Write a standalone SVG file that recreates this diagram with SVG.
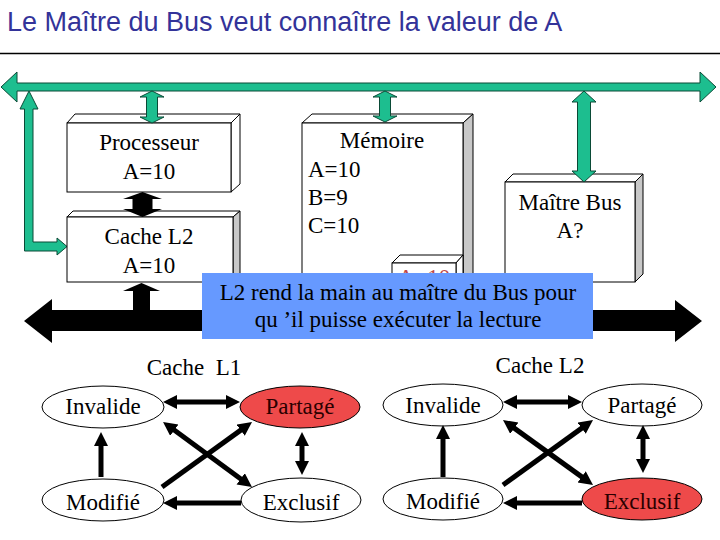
<svg xmlns="http://www.w3.org/2000/svg" width="720" height="540" viewBox="0 0 720 540">
<style>
.t{font-family:"Liberation Serif","Tinos","Times New Roman","DejaVu Serif",serif;font-size:23px;fill:#000}
.c{text-anchor:middle}
.face{fill:#fff;stroke:#000;stroke-width:1}
.side{fill:#c8c8c8;stroke:#000;stroke-width:1}
.green{fill:#1dbe8f;stroke:#0a4a36;stroke-width:1}
.blk{fill:#000}
.st{fill:#fff;stroke:#000;stroke-width:1}
.stred{fill:#ee4a4a;stroke:#000;stroke-width:1}
.ln{stroke:#000;stroke-width:5;fill:none}
</style>
<defs>
<marker id="ah" markerUnits="userSpaceOnUse" markerWidth="16" markerHeight="16" refX="4" refY="7" orient="auto-start-reverse" viewBox="0 0 16 16">
<path d="M0,0 L14,7 L0,14 Z" fill="#000"/>
</marker>
<clipPath id="clipA"><rect x="392" y="255" width="72" height="18"/></clipPath>
</defs>
<rect width="720" height="540" fill="#fff"/>
<g id="title">
<text x="7" y="31" font-family="Liberation Sans, Arial, sans-serif" font-size="27" fill="#333399">Le Maître du Bus veut connaître la valeur de A</text>
<line x1="0" y1="53.5" x2="720" y2="53.5" stroke="#000" stroke-width="1.5"/>
</g>
<g id="buses">
<path class="blk" d="M24,321 L52,299 L52,310 L675,310 L675,300 L702,321 L675,342 L675,331 L52,331 L52,343 Z"/>
<path class="green" d="M1,87 L17,72 L17,83 L700,83 L700,72 L716,87 L700,102 L700,91 L17,91 L17,102 Z"/>
<path class="green" d="M29,91 L38,109 L33,109 L33,242 L57,242 L57,238 L67,246.5 L57,255 L57,251 L24.5,251 L24.5,109 L20,109 Z"/>
</g>
<g id="processeur">
<polygon class="face" points="67,123 75,114 240,114 231,123"/>
<polygon class="face" points="231,123 240,114 240,184 231,192"/>
<rect class="face" x="67" y="123" width="164" height="69"/>
<text class="t c" x="149" y="150">Processeur</text>
<text class="t c" x="149" y="179">A=10</text>
</g>
<g id="cacheL2">
<polygon class="face" points="67,217 73,211 240,211 233,217"/>
<polygon class="side" points="233,217 240,211 240,276 233,282"/>
<rect class="face" x="67" y="217" width="166" height="65"/>
<text class="t c" x="149" y="244">Cache L2</text>
<text class="t c" x="149" y="273">A=10</text>
</g>
<g id="memoire">
<polygon class="face" points="302,123 312,114 473,114 463,123"/>
<polygon class="side" points="463,123 473,114 473,291 463,300"/>
<rect class="face" x="302" y="123" width="161" height="177"/>
<text class="t c" x="382" y="148">Mémoire</text>
<text class="t" x="308" y="177">A=10</text>
<text class="t" x="308" y="205">B=9</text>
<text class="t" x="308" y="233">C=10</text>
</g>
<g id="petitA">
<polygon class="face" points="392,263 400,255 463,255 456,263"/>
<polygon class="face" points="456,263 463,255 463,292 456,300"/>
<rect class="face" x="392" y="263" width="64" height="37"/>
<text class="t c" x="424" y="285" style="fill:#c04848" clip-path="url(#clipA)">A=10</text>
</g>
<g id="maitreBus">
<polygon class="face" points="505,182 513,174 643,174 635,182"/>
<polygon class="side" points="635,182 643,174 643,274 635,282"/>
<rect class="face" x="505" y="182" width="130" height="100"/>
<text class="t c" x="570" y="210">Maître Bus</text>
<text class="t c" x="570" y="238">A?</text>
</g>
<g id="links">
<path class="green" d="M152,91 L164,97 L157.5,97 L157.5,117 L164,117 L152,123 L140,117 L146.5,117 L146.5,97 L140,97 Z"/>
<path class="green" d="M385,91 L397,97 L390.5,97 L390.5,116 L397,116 L385,122 L373,116 L379.5,116 L379.5,97 L373,97 Z"/>
<path class="green" d="M584,91 L596,102 L590.5,102 L590.5,171 L596,171 L584,182 L572,171 L577.5,171 L577.5,102 L572,102 Z"/>
<path class="blk" d="M142.5,192 L162,199 L152.5,199 L152.5,209 L162,209 L142.5,217 L123,209 L132.5,209 L132.5,199 L123,199 Z"/>
<path class="blk" d="M141.5,283 L160,291 L150,291 L150,312 L133,312 L133,291 L123,291 Z"/>
</g>
<g id="message">
<rect x="202" y="273" width="391" height="66" fill="#6699ff"/>
<text class="t c" x="398" y="300">L2 rend la main au maître du Bus pour</text>
<text class="t c" x="398" y="327">qu ’il puisse exécuter la lecture</text>
</g>
<g id="label-L1"><text class="t c" x="194" y="375" xml:space="preserve">Cache  L1</text></g>
<g id="label-L2"><text class="t c" x="540" y="373">Cache L2</text></g>
<g id="L1-invalide"><ellipse class="st" cx="103" cy="407" rx="61" ry="21"/><text class="t c" x="103" y="414">Invalide</text></g>
<g id="L1-partage"><ellipse class="stred" cx="300" cy="407" rx="60" ry="21"/><text class="t c" x="300" y="414" style="fill:#2a0000">Partagé</text></g>
<g id="L1-modifie"><ellipse class="st" cx="103" cy="500" rx="61" ry="21"/><text class="t c" x="103" y="510">Modifié</text></g>
<g id="L1-exclusif"><ellipse class="st" cx="301" cy="500" rx="60" ry="22"/><text class="t c" x="301" y="510">Exclusif</text></g>
<g id="L2-invalide"><ellipse class="st" cx="443" cy="405" rx="60" ry="21"/><text class="t c" x="443" y="413">Invalide</text></g>
<g id="L2-partage"><ellipse class="st" cx="642" cy="405" rx="60" ry="21"/><text class="t c" x="642" y="413">Partagé</text></g>
<g id="L2-modifie"><ellipse class="st" cx="443" cy="499" rx="60" ry="21"/><text class="t c" x="443" y="509">Modifié</text></g>
<g id="L2-exclusif"><ellipse class="stred" cx="642" cy="499" rx="60" ry="21"/><text class="t c" x="642" y="509" style="fill:#2a0000">Exclusif</text></g>
<g id="connectors">
<line class="ln" x1="173" y1="402" x2="230" y2="402" marker-start="url(#ah)" marker-end="url(#ah)"/>
<line class="ln" x1="101" y1="477" x2="101" y2="442" marker-end="url(#ah)"/>
<line class="ln" x1="162" y1="487" x2="243.9" y2="427.85" marker-end="url(#ah)"/>
<line class="ln" x1="171.1" y1="427.85" x2="243.9" y2="481.15" marker-start="url(#ah)" marker-end="url(#ah)"/>
<line class="ln" x1="302" y1="442" x2="302" y2="465" marker-start="url(#ah)" marker-end="url(#ah)"/>
<line class="ln" x1="241" y1="503" x2="173" y2="503" marker-end="url(#ah)"/>
<line class="ln" x1="513" y1="402" x2="572" y2="402" marker-start="url(#ah)" marker-end="url(#ah)"/>
<line class="ln" x1="443" y1="477" x2="443" y2="435" marker-end="url(#ah)"/>
<line class="ln" x1="503" y1="485" x2="584.9" y2="425.85" marker-end="url(#ah)"/>
<line class="ln" x1="511.1" y1="425.85" x2="584.9" y2="479.15" marker-start="url(#ah)" marker-end="url(#ah)"/>
<line class="ln" x1="643" y1="435" x2="643" y2="463" marker-start="url(#ah)" marker-end="url(#ah)"/>
<line class="ln" x1="582" y1="503" x2="513" y2="503" marker-end="url(#ah)"/>
</g>
</svg>
